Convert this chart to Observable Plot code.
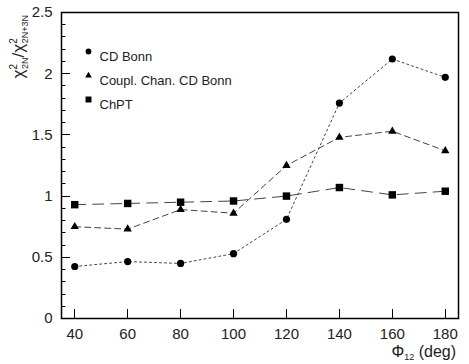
<!DOCTYPE html>
<html><head><meta charset="utf-8">
<script src="https://cdn.jsdelivr.net/npm/d3@7"></script>
<script src="https://cdn.jsdelivr.net/npm/@observablehq/plot@0.6"></script>
<style>body{margin:0;background:#fff}</style>
</head><body><div id="chart"></div>
<script>
const phi = [40, 60, 80, 100, 120, 140, 160, 180];
const cdBonn = [0.425, 0.465, 0.45, 0.53, 0.81, 1.76, 2.12, 1.97];
const couplChan = [0.75, 0.73, 0.89, 0.86, 1.25, 1.48, 1.53, 1.37];
const chpt = [0.93, 0.94, 0.95, 0.96, 1.00, 1.07, 1.01, 1.04];
const seriesNames = ["CD Bonn", "Coupl. Chan. CD Bonn", "ChPT"];
const xTicks = [40, 60, 80, 100, 120, 140, 160, 180];
const yTicks = [0, 0.5, 1, 1.5, 2, 2.5];
const yMinor = d3.range(0, 26).map(i => i / 10);

const W = 469, H = 364, ML = 61, MR = 11, MT = 12, MB = 46;
const plotW = W - ML - MR, plotH = H - MT - MB;

const styles = {
  "CD Bonn": {symbol: "circle", dash: "2,3", r: 3.6},
  "Coupl. Chan. CD Bonn": {symbol: "triangle", dash: "6,4", r: 3.1},
  "ChPT": {symbol: "square", dash: "11,7", r: 4.2}
};
const seriesValues = [cdBonn, couplChan, chpt];
const rows = seriesNames.flatMap((s, i) => phi.map((x, j) => ({series: s, x, y: seriesValues[i][j]})));

const marks = [];
seriesNames.forEach((s, i) => {
  const data = rows.filter(d => d.series === s);
  marks.push(Plot.line(data, {x: "x", y: "y", stroke: "#444", strokeWidth: 1, strokeDasharray: styles[s].dash}));
  marks.push(Plot.dot(data, {x: "x", y: "y", symbol: () => styles[s].symbol, r: styles[s].r, fill: "black", stroke: "none"}));
  marks.push(Plot.dot([s], {frameAnchor: "top-left", dx: 27, dy: 39 + i * 24, symbol: () => styles[s].symbol, r: styles[s].r * 0.8, fill: "black", stroke: "none"}));
  marks.push(Plot.text([s], {frameAnchor: "top-left", dx: 38, dy: 39 + i * 24, text: d => d, textAnchor: "start", fontSize: 13, fill: "#222"}));
});

const chart = Plot.plot({
  width: W, height: H,
  marginLeft: ML, marginRight: MR, marginTop: MT, marginBottom: MB,
  style: {fontFamily: "'Liberation Sans', Arial, sans-serif", background: "white"},
  x: {domain: [35, 185]},
  y: {domain: [0, 2.5]},
  marks: [
    Plot.frame({stroke: "black", strokeWidth: 1.5}),
    Plot.axisY(yTicks, {tickSize: 0, tickPadding: 9, fontSize: 15, tickFormat: d => String(d), label: null, fill: "#222"}),
    Plot.axisX(xTicks, {tickSize: 0, tickPadding: 10, fontSize: 15, label: null, fill: "#222"}),
    ...marks
  ]
});
const svg = d3.select(chart);
const xs = chart.scale("x"), ys = chart.scale("y");
const tg = svg.append("g").attr("stroke", "black").attr("stroke-width", 1);
yMinor.forEach(v => {
  const major = yTicks.some(t => Math.abs(t - v) < 1e-9);
  const y = Math.round(ys.apply(v)) + 0.5;
  tg.append("line").attr("x1", ML).attr("x2", ML + (major ? 9 : 4.5)).attr("y1", y).attr("y2", y);
});
xTicks.forEach(v => {
  const x = Math.round(xs.apply(v)) + 0.5;
  tg.append("line").attr("x1", x).attr("x2", x).attr("y1", H - MB).attr("y2", H - MB - 9);
});
// Y axis label
const yl = svg.append("text")
  .attr("transform", "translate(24,15) rotate(-90)")
  .attr("text-anchor", "end")
  .attr("font-family", "'Liberation Sans', Arial, sans-serif")
  .attr("font-size", 17).attr("fill", "#222");
yl.append("tspan").text("χ");
yl.append("tspan").attr("font-size", 10).attr("dy", -7).text("2");
yl.append("tspan").attr("font-size", 9).attr("dx", -5).attr("dy", 11).text("2N");
yl.append("tspan").attr("dy", -4).text("/χ");
yl.append("tspan").attr("font-size", 10).attr("dy", -7).text("2");
yl.append("tspan").attr("font-size", 9).attr("dx", -5).attr("dy", 11).text("2N+3N");
// X axis label
const xl = svg.append("text")
  .attr("x", 456).attr("y", 357)
  .attr("text-anchor", "end")
  .attr("font-family", "'Liberation Sans', Arial, sans-serif")
  .attr("font-size", 16).attr("fill", "#222");
xl.append("tspan").text("Φ");
xl.append("tspan").attr("font-size", 9).attr("dy", 3).text("12");
xl.append("tspan").attr("dy", -3).text(" (deg)");
document.getElementById("chart").appendChild(chart);
</script>
</body></html>
